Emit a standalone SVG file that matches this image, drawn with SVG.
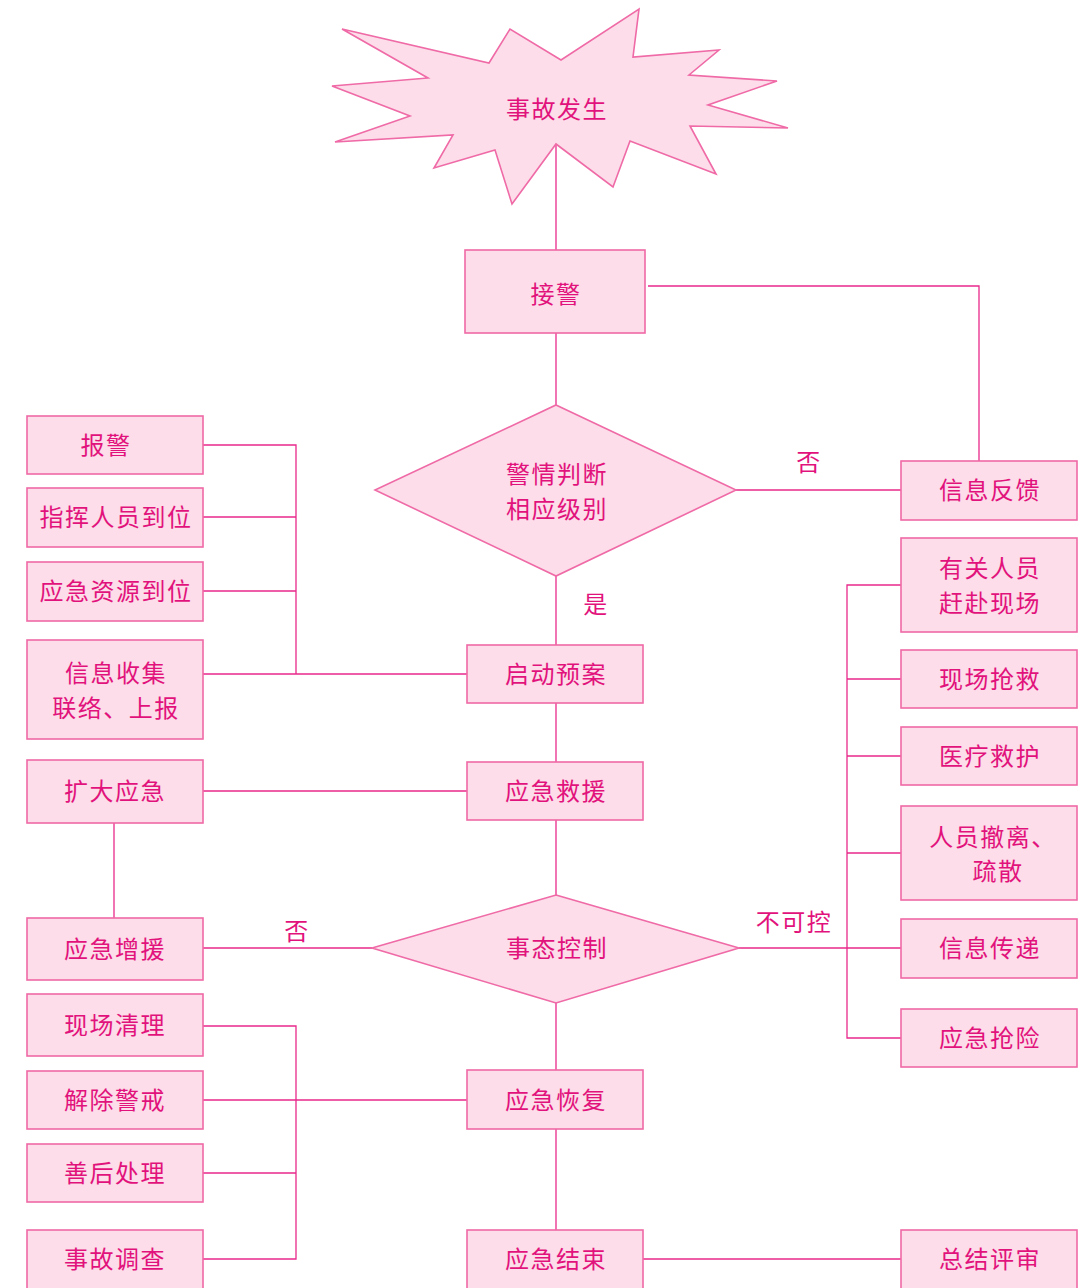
<svg xmlns="http://www.w3.org/2000/svg" width="1084" height="1288" viewBox="0 0 1084 1288">
<style>
.n{fill:#fcdde9;stroke:#ef6aa6;stroke-width:1.6}
.c{fill:none;stroke:#e9298a;stroke-width:1.3}
text{font-family:"Noto Sans CJK SC","Noto Sans",sans-serif;font-size:24px;fill:#e2127c;text-anchor:middle;dominant-baseline:central;letter-spacing:1.5px}
</style>
<rect width="1084" height="1288" fill="#ffffff"/>
<g id="connectors">
<path class="c" d="M556,144 V250"/>
<path class="c" d="M648,286 H979 V461"/>
<path class="c" d="M556,333 V405"/>
<path class="c" d="M736,490 H901"/>
<path class="c" d="M556,576 V645"/>
<path class="c" d="M203,445 H296 V674 M203,517 H296 M203,591 H296 M203,674 H467"/>
<path class="c" d="M556,703 V762"/>
<path class="c" d="M203,791 H467"/>
<path class="c" d="M114,823 V918"/>
<path class="c" d="M556,820 V895"/>
<path class="c" d="M203,948 H372"/>
<path class="c" d="M739,948 H901"/>
<path class="c" d="M901,585 H847 V1038 H901 M847,679 H901 M847,756 H901 M847,853 H901"/>
<path class="c" d="M556,1003 V1070"/>
<path class="c" d="M203,1026 H296 V1259 H203 M203,1100 H467 M203,1173 H296"/>
<path class="c" d="M556,1129 V1230"/>
<path class="c" d="M643,1259 H901"/>
</g>
<g id="n-start"><polygon class="n" points="342,29 489,63 510,29 561,60 639,9 633,57 719,50 689,75 777,81 708,105 788,128 690,126 716,174 630,141 613,187 556,144 512,204 495,150 434,168 453,135 335,142 410,116 332,86 428,78"/><text x="557" y="107">事故发生</text></g>
<g id="n-jiejing"><rect class="n" x="465" y="250" width="180" height="83"/><text x="556" y="292">接警</text></g>
<g id="n-judge"><polygon class="n" points="556,405 736,490 556,576 375,490"/><text x="557" y="472">警情判断</text><text x="557" y="507">相应级别</text></g>
<text x="809" y="460">否</text>
<text x="596" y="602">是</text>
<g id="n-feedback"><rect class="n" x="901" y="461" width="176" height="59"/><text x="990" y="488">信息反馈</text></g>
<g id="n-qidong"><rect class="n" x="467" y="645" width="176" height="58"/><text x="556" y="672">启动预案</text></g>
<g id="n-baojing"><rect class="n" x="27" y="416" width="176" height="58"/><text x="106" y="443">报警</text></g>
<g id="n-zhihui"><rect class="n" x="27" y="488" width="176" height="59"/><text x="116" y="515">指挥人员到位</text></g>
<g id="n-ziyuan"><rect class="n" x="27" y="562" width="176" height="59"/><text x="116" y="589">应急资源到位</text></g>
<g id="n-xinxi"><rect class="n" x="27" y="640" width="176" height="99"/><text x="116" y="671">信息收集</text><text x="116" y="706">联络、上报</text></g>
<g id="n-kuoda"><rect class="n" x="27" y="760" width="176" height="63"/><text x="115" y="789">扩大应急</text></g>
<g id="n-jiuyuan"><rect class="n" x="467" y="762" width="176" height="58"/><text x="556" y="789">应急救援</text></g>
<g id="n-control"><polygon class="n" points="556,895 739,948 556,1003 372,948"/><text x="557" y="946">事态控制</text></g>
<text x="297" y="929">否</text>
<text x="794" y="920">不可控</text>
<g id="n-zengyuan"><rect class="n" x="27" y="918" width="176" height="62"/><text x="115" y="947">应急增援</text></g>
<g id="n-youguan"><rect class="n" x="901" y="538" width="176" height="94"/><text x="990" y="566">有关人员</text><text x="990" y="601">赶赴现场</text></g>
<g id="n-qiangjiu"><rect class="n" x="901" y="650" width="176" height="58"/><text x="990" y="677">现场抢救</text></g>
<g id="n-yiliao"><rect class="n" x="901" y="727" width="176" height="58"/><text x="990" y="754">医疗救护</text></g>
<g id="n-cheli"><rect class="n" x="901" y="806" width="176" height="94"/><text x="993" y="835">人员撤离、</text><text x="998" y="869">疏散</text></g>
<g id="n-chuandi"><rect class="n" x="901" y="919" width="176" height="59"/><text x="990" y="946">信息传递</text></g>
<g id="n-qiangxian"><rect class="n" x="901" y="1009" width="176" height="58"/><text x="990" y="1036">应急抢险</text></g>
<g id="n-qingli"><rect class="n" x="27" y="994" width="176" height="62"/><text x="115" y="1023">现场清理</text></g>
<g id="n-jiechu"><rect class="n" x="27" y="1071" width="176" height="58"/><text x="115" y="1098">解除警戒</text></g>
<g id="n-shanhou"><rect class="n" x="27" y="1144" width="176" height="58"/><text x="115" y="1171">善后处理</text></g>
<g id="n-diaocha"><rect class="n" x="27" y="1230" width="176" height="70"/><text x="115" y="1257">事故调查</text></g>
<g id="n-huifu"><rect class="n" x="467" y="1070" width="176" height="59"/><text x="556" y="1098">应急恢复</text></g>
<g id="n-jieshu"><rect class="n" x="467" y="1230" width="176" height="70"/><text x="556" y="1257">应急结束</text></g>
<g id="n-zongjie"><rect class="n" x="901" y="1230" width="176" height="70"/><text x="990" y="1257">总结评审</text></g>
</svg>
